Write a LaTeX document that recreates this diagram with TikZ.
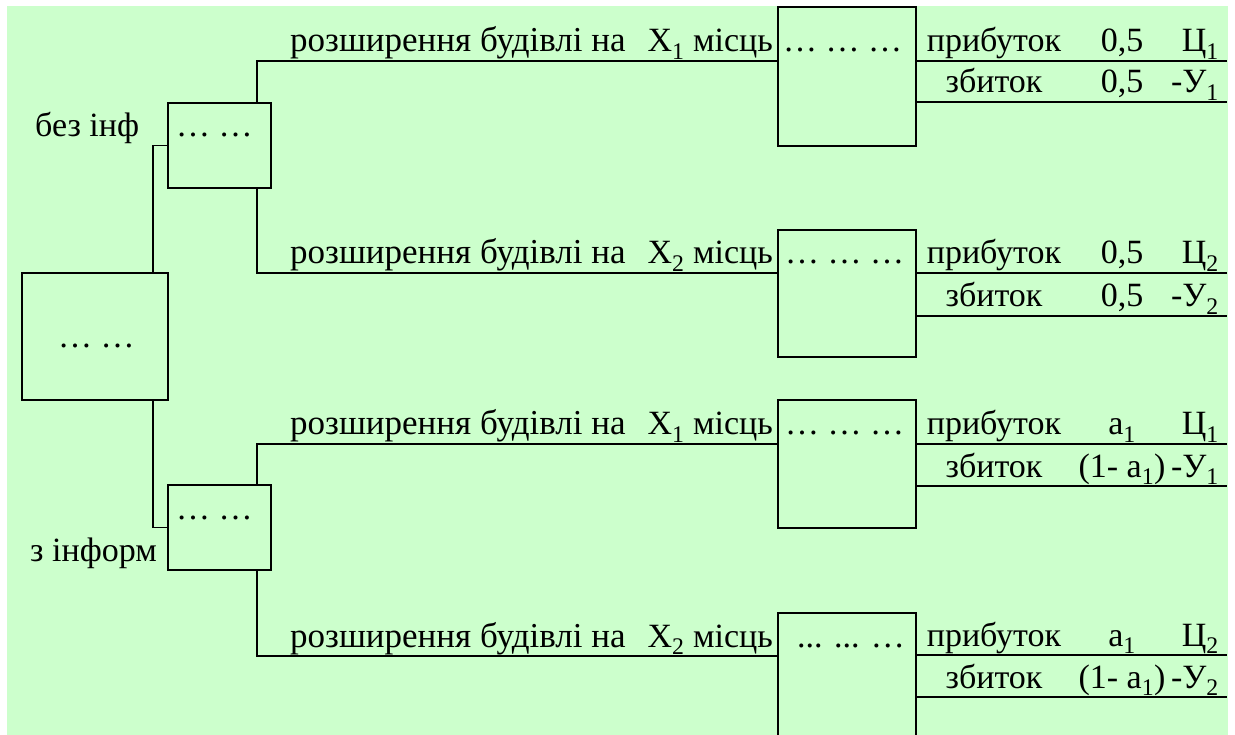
\documentclass[tikz,border=0pt]{standalone}
\usepackage{fontspec}
\setmainfont{Liberation Serif}
\usetikzlibrary{calc}
\definecolor{bggreen}{HTML}{CCFFCC}
\begin{document}
\begin{tikzpicture}[x=1pt,y=-1pt,
  box/.style={draw, line width=2pt, inner sep=0pt, outer sep=0pt, anchor=north west},
  conn/.style={line width=1.5pt},
  txt/.style={inner sep=0pt, anchor=base west, font=\fontsize{34}{40}\selectfont},
  ltxt/.style={txt, font=\fontsize{35}{40}\selectfont},
  ctxt/.style={txt, anchor=base},
  rtxt/.style={txt, anchor=base east}]
\useasboundingbox (0,0) rectangle (1235,735);
\clip (0,0) rectangle (1235,735);
\fill[bggreen] (7,6) rectangle (1228,740);

% boxes
\node[box, minimum width=146pt, minimum height=127pt] (root) at (22,273) {};
\node[box, minimum width=103pt, minimum height=85pt] (d1) at (168,103) {};
\node[box, minimum width=103pt, minimum height=85pt] (d2) at (168,485) {};
\node[box, minimum width=138pt, minimum height=139pt] (c1) at (778,7) {};
\node[box, minimum width=138pt, minimum height=127pt] (c2) at (778,230) {};
\node[box, minimum width=138pt, minimum height=128pt] (c3) at (778,400) {};
\node[box, minimum width=138pt, minimum height=135pt] (c4) at (778,613) {};

% connectors
\draw[conn] ([xshift=-15pt]root.north east) |- (d1.west);
\draw[conn] ([xshift=-15pt]root.south east) |- (d2.west);
\draw[conn] ([xshift=-14pt]d1.north east) |- ($(c1.north west)+(0,54)$);
\draw[conn] ([xshift=-14pt]d1.south east) |- ($(c2.north west)+(0,43)$);
\draw[conn] ([xshift=-14pt]d2.north east) |- ($(c3.north west)+(0,44)$);
\draw[conn] ([xshift=-14pt]d2.south east) |- ($(c4.north west)+(0,43)$);

% outcome lines
\draw[conn] ($(c1.north east)+(0,54)$) -- ++(311,0);
\draw[conn] ($(c1.north east)+(0,95)$) -- ++(311,0);
\draw[conn] ($(c2.north east)+(0,43)$) -- ++(311,0);
\draw[conn] ($(c2.north east)+(0,86)$) -- ++(311,0);
\draw[conn] ($(c3.north east)+(0,44)$) -- ++(311,0);
\draw[conn] ($(c3.north east)+(0,86)$) -- ++(311,0);
\draw[conn] ($(c4.north east)+(0,42)$) -- ++(311,0);
\draw[conn] ($(c4.north east)+(0,84)$) -- ++(311,0);

% texts in boxes and labels
\node[txt] (lno) at (35,137) {без інф};
\node[txt] (lyes) at (30,561) {з інформ};
\node[txt] (troot) at (58,348) {… …};
\node[txt] (td1) at (176,137) {… …};
\node[txt] (td2) at (176,519) {… …};
\node[txt] (tc1) at (783,52) {… … …};
\node[txt] (tc2) at (785,264) {… … …};
\node[txt] (tc3) at (785,435) {… … …};
\node[txt] (tc4) at (797,647) {... ... …};

\node[ltxt] (b1) at (290,52) {розширення будівлі на};
\node[rtxt] (x1) at (773,52) {X\textsubscript{1} місць};
\node[ltxt] (b2) at (290,264) {розширення будівлі на};
\node[rtxt] (x2) at (773,264) {X\textsubscript{2} місць};
\node[ltxt] (b3) at (290,435) {розширення будівлі на};
\node[rtxt] (x3) at (773,435) {X\textsubscript{1} місць};
\node[ltxt] (b4) at (290,647) {розширення будівлі на};
\node[rtxt] (x4) at (773,647) {X\textsubscript{2} місць};

% outcome table texts
\node[ctxt] (p1) at (994,52) {прибуток};
\node[ctxt] (z1) at (994,93) {збиток};
\node[ctxt] (pp1) at (1122,52) {0,5};
\node[ctxt] (zp1) at (1122,93) {0,5};
\node[rtxt] (pv1) at (1219,52) {Ц\textsubscript{1}};
\node[rtxt] (zv1) at (1219,93) {-У\textsubscript{1}};

\node[ctxt] (p2) at (994,264) {прибуток};
\node[ctxt] (z2) at (994,307) {збиток};
\node[ctxt] (pp2) at (1122,264) {0,5};
\node[ctxt] (zp2) at (1122,307) {0,5};
\node[rtxt] (pv2) at (1219,264) {Ц\textsubscript{2}};
\node[rtxt] (zv2) at (1219,307) {-У\textsubscript{2}};

\node[ctxt] (p3) at (994,435) {прибуток};
\node[ctxt] (z3) at (994,477) {збиток};
\node[ctxt] (pp3) at (1122,435) {a\textsubscript{1}};
\node[ctxt] (zp3) at (1122,477) {(1- a\textsubscript{1})};
\node[rtxt] (pv3) at (1219,435) {Ц\textsubscript{1}};
\node[rtxt] (zv3) at (1219,477) {-У\textsubscript{1}};

\node[ctxt] (p4) at (994,646) {прибуток};
\node[ctxt] (z4) at (994,688) {збиток};
\node[ctxt] (pp4) at (1122,646) {a\textsubscript{1}};
\node[ctxt] (zp4) at (1122,688) {(1- a\textsubscript{1})};
\node[rtxt] (pv4) at (1219,646) {Ц\textsubscript{2}};
\node[rtxt] (zv4) at (1219,688) {-У\textsubscript{2}};
\end{tikzpicture}
\end{document}
